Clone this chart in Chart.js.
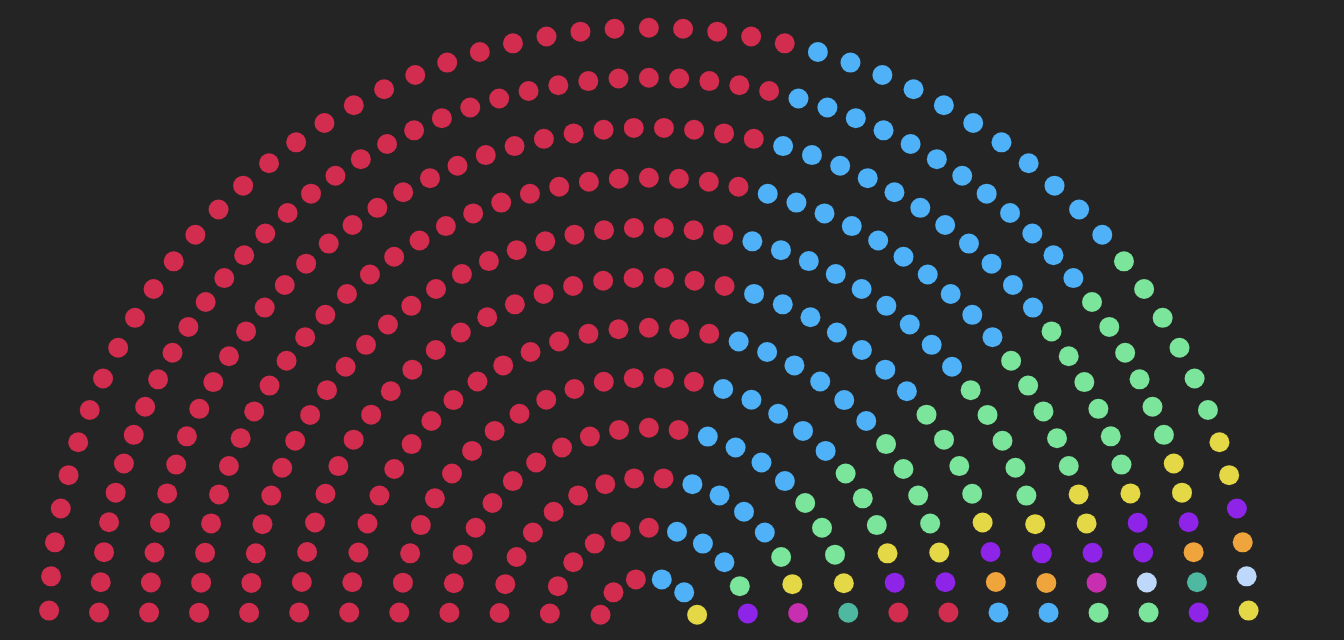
<!DOCTYPE html>
<html>
<head>
<meta charset="utf-8">
<script src="https://cdn.jsdelivr.net/npm/chart.js@4.4.1/dist/chart.umd.min.js"></script>
<style>
  html, body { margin: 0; padding: 0; background: #242424; }
  #wrap { width: 1344px; height: 640px; position: relative; }
</style>
</head>
<body>
<div id="wrap"><canvas id="c" width="1344" height="640"></canvas></div>
<script>
// Parties in seating order (left to right)
const partyNames = ['Party 1','Party 2','Party 3','Party 4','Party 5','Party 6','Party 7',
                    'Party 8','Party 9','Party 10','Party 11','Party 12','Party 13','Party 14'];
const partySeats = [230, 84, 44, 14, 10, 4, 2, 2, 2, 2, 2, 2, 1, 1];
const palette = ['#d22c4e','#4fb1f7','#7ae59b','#e4d846','#8d24e8','#f0a53c','#c82eb0','#bdd8fa','#4fb8a0'];
// Seats per row, from the innermost row to the outermost
const rowSeats = [6, 11, 16, 21, 26, 31, 36, 42, 47, 52, 57, 55];

// Build the seat list of the hemicycle
const nRows = rowSeats.length;
const seats = [];
rowSeats.forEach((n, k) => {
  const r = (k + 1) / nRows;
  for (let j = 0; j < n; j++) {
    seats.push({ row: k, r, n, j });
  }
});
// order by angle from the left (fraction (2j+1)/(2n)), ties: inner row first
seats.sort((a, b) => {
  const d = (2 * a.j + 1) * b.n - (2 * b.j + 1) * a.n;
  if (d !== 0) return d;
  return a.r - b.r;
});

const datasets = partyNames.map((name, p) => ({
  label: name,
  data: [],
  backgroundColor: palette[p % palette.length],
  borderWidth: 0,
  pointRadius: 10,
  pointHoverRadius: 11,
  clip: false
}));
let idx = 0;
partySeats.forEach((cnt, p) => {
  for (let s = 0; s < cnt; s++, idx++) {
    const seat = seats[idx];
    const theta = Math.PI - Math.PI * (seat.j + 0.5) / seat.n;
    datasets[p].data.push({ x: seat.r * Math.cos(theta), y: seat.r * Math.sin(theta) });
  }
});

new Chart(document.getElementById('c'), {
  type: 'scatter',
  data: { datasets },
  options: {
    responsive: false,
    devicePixelRatio: 1,
    animation: false,
    layout: { padding: 0, autoPadding: false },
    plugins: { legend: { display: false }, tooltip: { enabled: true } },
    scales: {
      x: { type: 'linear', display: false, min: -1.0814, max: 1.1586 },
      y: { type: 'linear', display: false, min: -0.0205, max: 1.0462 }
    }
  }
});
</script>
</body>
</html>
